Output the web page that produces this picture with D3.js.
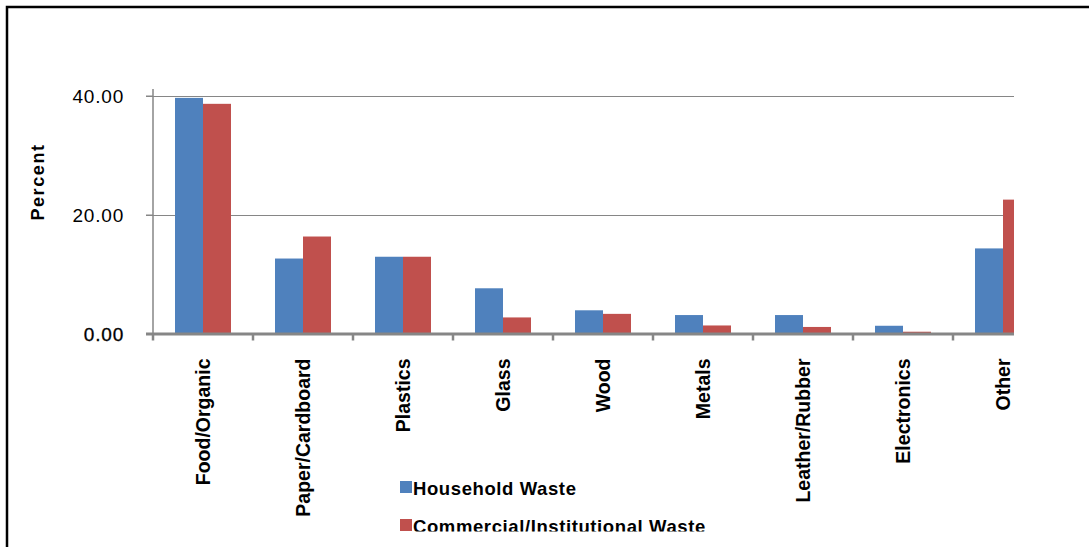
<!DOCTYPE html>
<html>
<head>
<meta charset="utf-8">
<script src="https://cdn.jsdelivr.net/npm/d3@7"></script>
<style>
  body { margin: 0; background: #fff; }
  svg { display: block; font-family: "Liberation Sans", Arial, sans-serif; }
</style>
</head>
<body>
<div id="chart"></div>
<script>
// data
const categories = ["Food/Organic", "Paper/Cardboard", "Plastics", "Glass", "Wood",
                    "Metals", "Leather/Rubber", "Electronics", "Other"];
const household = [39.6, 12.6, 12.9, 7.6, 3.9, 3.1, 3.1, 1.3, 14.3];
const commercial = [38.6, 16.3, 12.9, 2.7, 3.3, 1.35, 1.1, 0.3, 22.5];
const seriesNames = ["Household Waste", "Commercial/Institutional Waste"];
const yTicks = [0, 20, 40];
const colors = ["#4F81BD", "#C0504D"];

const W = 1089, H = 547;
const plot = { left: 153, right: 1053, top: 95.5, bottom: 333.5, clipRight: 1014 };

const svg = d3.select("#chart").append("svg")
  .attr("width", W).attr("height", H);

// outer frame (right and bottom edges fall outside the picture)
svg.append("rect")
  .attr("x", 7).attr("y", 7)
  .attr("width", W + 20).attr("height", H + 20)
  .attr("fill", "none").attr("stroke", "#000").attr("stroke-width", 2.5);

const defs = svg.append("defs");
defs.append("clipPath").attr("id", "plotClip")
  .append("rect").attr("x", 0).attr("y", 0).attr("width", plot.clipRight).attr("height", H);
defs.append("clipPath").attr("id", "legendClip")
  .append("rect").attr("x", 0).attr("y", 0).attr("width", W).attr("height", 531.5);

// scales
const x = d3.scaleBand()
  .domain(categories)
  .range([plot.left, plot.right])
  .paddingInner(0.44)
  .paddingOuter(0.22);

const xSub = d3.scaleBand()
  .domain(d3.range(seriesNames.length))
  .range([0, x.bandwidth()]);

const y = d3.scaleLinear()
  .domain([0, 40])
  .range([plot.bottom, plot.top]);

const g = svg.append("g").attr("clip-path", "url(#plotClip)");

// gridlines
g.selectAll("line.grid")
  .data(yTicks.filter(d => d > 0))
  .enter().append("line")
  .attr("class", "grid")
  .attr("x1", plot.left - 7).attr("x2", plot.right)
  .attr("y1", d => Math.round(y(d)) + 0.5).attr("y2", d => Math.round(y(d)) + 0.5)
  .attr("stroke", "#868686").attr("stroke-width", 1);

// bars
const rows = categories.map((c, i) => ({ cat: c, values: [household[i], commercial[i]] }));
g.selectAll("g.cat")
  .data(rows)
  .enter().append("g")
  .attr("class", "cat")
  .attr("transform", d => `translate(${x(d.cat)},0)`)
  .selectAll("rect")
  .data(d => d.values.map((v, k) => ({ v, k })))
  .enter().append("rect")
  .attr("x", d => xSub(d.k))
  .attr("width", xSub.bandwidth())
  .attr("y", d => y(d.v))
  .attr("height", d => y(0) - y(d.v))
  .attr("fill", d => colors[d.k]);

// x axis line and category boundary ticks
const step = x.step();
const bounds = d3.range(categories.length + 1).map(i => plot.left + i * step);
g.append("line")
  .attr("x1", plot.left - 7).attr("x2", plot.right)
  .attr("y1", plot.bottom + 0.5).attr("y2", plot.bottom + 0.5)
  .attr("stroke", "#868686").attr("stroke-width", 3);
g.selectAll("line.xtick")
  .data(bounds)
  .enter().append("line")
  .attr("class", "xtick")
  .attr("x1", d => d).attr("x2", d => d)
  .attr("y1", plot.bottom).attr("y2", plot.bottom + 7)
  .attr("stroke", "#868686").attr("stroke-width", 2.5);

// y axis
const yAxis = svg.append("g")
  .attr("transform", `translate(${plot.left},0)`)
  .call(d3.axisLeft(y).tickValues(yTicks).tickFormat(d3.format(".2f")).tickSize(7).tickPadding(22));
yAxis.select(".domain").remove();
yAxis.append("line")
  .attr("x1", 0).attr("x2", 0).attr("y1", 89).attr("y2", plot.bottom)
  .attr("stroke", "#868686").attr("stroke-width", 1.5);
yAxis.selectAll(".tick line").attr("stroke", "#868686");
yAxis.selectAll(".tick text")
  .attr("fill", "#000")
  .style("font-size", "19px")
  .style("letter-spacing", "0.8px")
  .attr("dy", "0.36em");
yAxis.selectAll(".tick").filter(d => d === 0).select("text")
  .attr("stroke", "#000").attr("stroke-width", 0.3);

// y axis title
svg.append("text")
  .attr("transform", "translate(44,182) rotate(-90)")
  .attr("text-anchor", "middle")
  .style("font-size", "18px")
  .style("font-weight", "bold")
  .style("letter-spacing", "1.6px")
  .text("Percent");

// category labels
const xAxis = svg.append("g")
  .attr("transform", `translate(0,${plot.bottom})`)
  .call(d3.axisBottom(x).tickSize(0));
xAxis.select(".domain").remove();
xAxis.selectAll(".tick text")
  .attr("fill", "#000")
  .style("font-size", "19.5px")
  .style("font-weight", "bold")
  .attr("text-anchor", "end")
  .attr("transform", "translate(0,25) rotate(-90)")
  .attr("x", 0).attr("y", 0)
  .attr("dy", "0.35em");

// legend
const legend = svg.append("g").attr("clip-path", "url(#legendClip)");
const items = legend.selectAll("g.item")
  .data(seriesNames)
  .enter().append("g")
  .attr("class", "item")
  .attr("transform", (d, i) => `translate(400,${481 + i * 38})`);
items.append("rect")
  .attr("width", 12).attr("height", 12)
  .attr("fill", (d, i) => colors[i]);
items.append("text")
  .attr("x", 13).attr("y", 14)
  .style("font-size", "18.5px")
  .style("font-weight", "bold")
  .style("letter-spacing", "0.6px")
  .text(d => d);
</script>
</body>
</html>
